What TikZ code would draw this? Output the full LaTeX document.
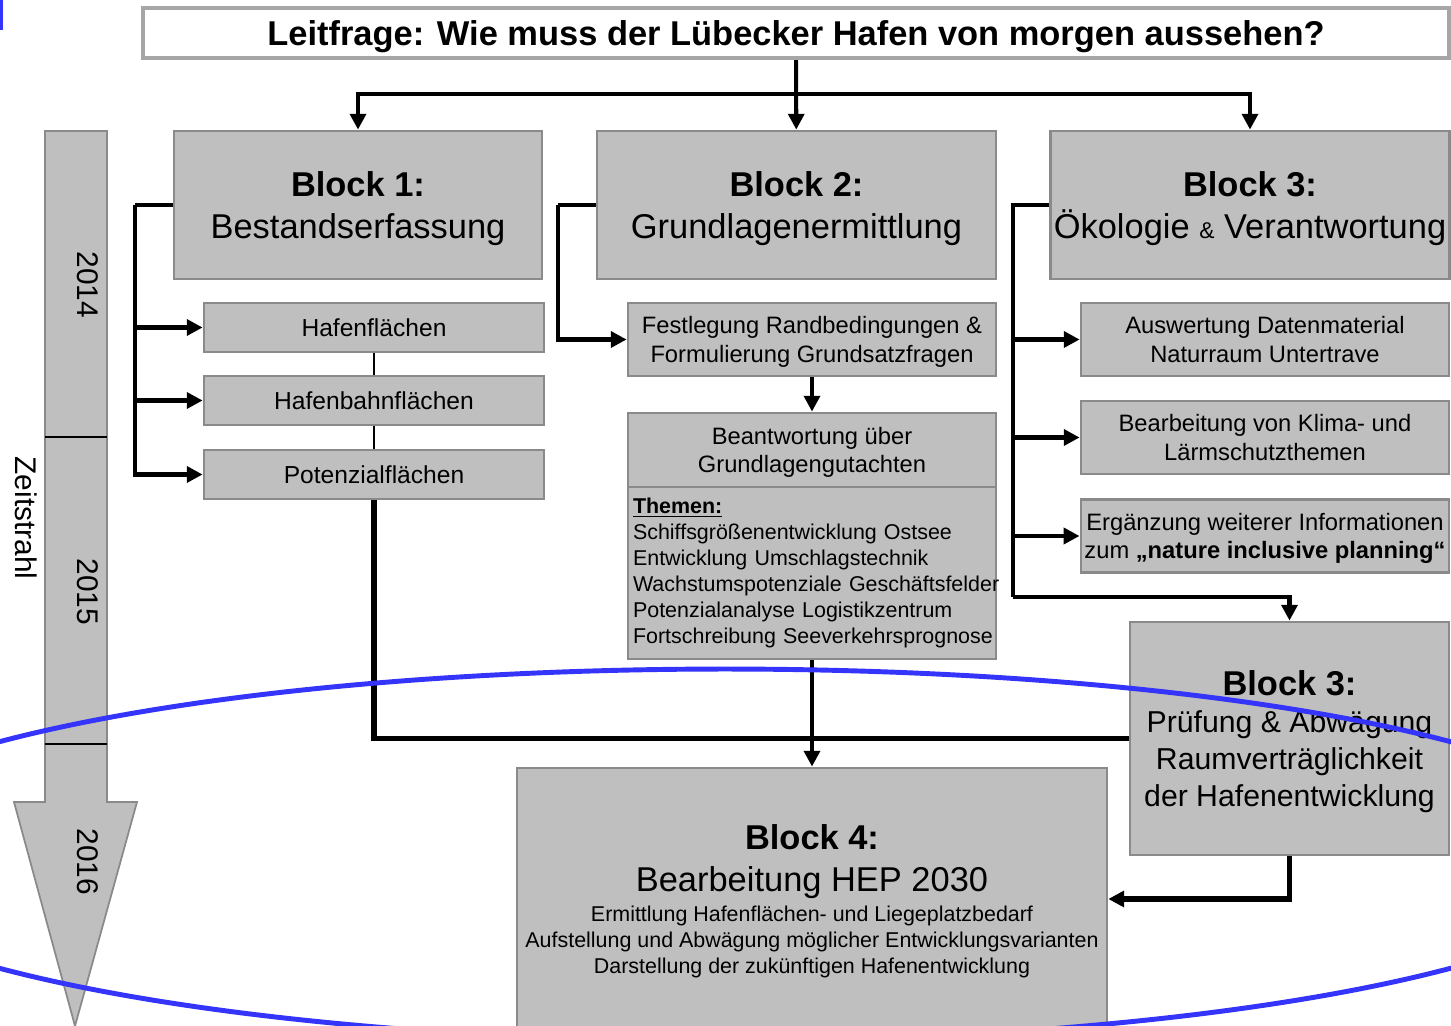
\documentclass[tikz,border=0pt]{standalone}
\usepackage{fontspec}
\setmainfont{Liberation Sans}
\usetikzlibrary{arrows.meta}
\definecolor{boxgray}{RGB}{191,191,191}
\definecolor{linegray}{RGB}{138,138,138}
\definecolor{titlegray}{RGB}{166,166,166}
\definecolor{ovalblue}{RGB}{52,52,250}
\newcommand{\bigfnt}{\fontsize{19.6}{23.5}\selectfont}
\newcommand{\smallfnt}{\fontsize{12.2}{14.8}\selectfont}

\begin{document}
\begin{tikzpicture}[x=0.02cm, y=-0.02cm,
    every node/.style={inner sep=2pt},
    box/.style={draw=linegray, line width=1.6pt, fill=boxgray, align=center},
    blockbox/.style={box, minimum width=7.98cm, minimum height=2.96cm, text depth=0pt, font=\bigfnt},
    flbox/.style={box, minimum width=6.8cm, minimum height=0.98cm, font=\fontsize{14}{16}\selectfont},
    infobox/.style={box, minimum width=7.36cm, minimum height=1.46cm, text depth=0pt, font=\fontsize{13.5}{16.2}\selectfont},
    yearlabel/.style={rotate=-90, font=\fontsize{17}{20}\selectfont},
    bus/.style={draw=black, line width=2.3pt},
    arr/.style={bus, -{Triangle[length=9pt, width=9pt]}},
    fatbus/.style={draw=black, line width=3.2pt}]
  \clip (0,0) rectangle (1451,1026);
  \fill[white] (0,0) rectangle (1451,1026);
  \fill[ovalblue] (0,0) rectangle (3,30);

  % Zeitstrahl
  \draw[draw=linegray, line width=1pt, fill=boxgray] (45,131) -- (107,131) -- (107,802) -- (137,802)
    -- (75,1026) -- (14,802) -- (45,802) -- cycle;
  \draw[line width=1pt] (45,437) -- (107,437) (45,744) -- (107,744);
  \node[yearlabel] (y14) at (88,285) {2014};
  \node[yearlabel] (y15) at (88,592) {2015};
  \node[yearlabel] (y16) at (88,862) {2016};
  \node[yearlabel] (zs) at (26,518) {Zeitstrahl};

  % Leitfrage
  \node[draw=titlegray, line width=2.3pt, fill=white, minimum width=26.12cm, minimum height=1cm, text depth=0pt,
    font=\bfseries\bigfnt] (title) at (796,33) {Leitfrage: Wie muss der Lübecker Hafen von morgen aussehen?};

  \node[blockbox, minimum width=7.36cm] (b1) at (358,205) {\textbf{Block 1:}\\Bestandserfassung};
  \node[blockbox] (b2) at (796.5,205) {\textbf{Block 2:}\\Grundlagenermittlung};
  \node[blockbox] (b3) at (1250,205) {\textbf{Block 3:}\\Ökologie {\fontsize{13}{15}\selectfont\&} Verantwortung};

  \node[flbox] (h1) at (374,327.5) {Hafenflächen};
  \node[flbox] (h2) at (374,400.5) {Hafenbahnflächen};
  \node[flbox] (h3) at (374,474.5) {Potenzialflächen};

  \node[infobox] (f1) at (812,339.5) {Festlegung Randbedingungen \&\\Formulierung Grundsatzfragen};
  \node[infobox, minimum height=1.48cm] (bt) at (812,450) {Beantwortung über\\Grundlagengutachten};
  \node[box, align=left, text width=7.16cm, inner sep=0.1cm, minimum height=3.44cm, font=\smallfnt] (tm) at (812,573)
    {\mbox{\underline{\textbf{Themen:}}}\\\mbox{Schiffsgrößenentwicklung Ostsee}\\\mbox{Entwicklung Umschlagstechnik}\\
     \mbox{Wachstumspotenziale Geschäftsfelder}\\\mbox{Potenzialanalyse Logistikzentrum}\\\mbox{Fortschreibung Seeverkehrsprognose}};

  \node[infobox] (r1) at (1265,339.5) {Auswertung Datenmaterial\\Naturraum Untertrave};
  \node[infobox] (r2) at (1265,437.5) {Bearbeitung von Klima- und\\Lärmschutzthemen};
  \node[infobox] (r3) at (1265,536) {Ergänzung weiterer Informationen\\zum \textbf{„nature inclusive planning“}};

  \node[box, minimum width=6.38cm, minimum height=4.66cm, text depth=0pt, font=\fontsize{17.2}{21}\selectfont] (p3) at (1289.5,738.5)
    {{\bigfnt\textbf{Block 3:}}\\Prüfung \& Abwägung\\Raumverträglichkeit\\der Hafenentwicklung};

  \node[box, minimum width=11.8cm, minimum height=5.24cm, text depth=0pt, font=\smallfnt] (b4) at (812,899)
    {{\bigfnt\textbf{Block 4:}}\\[9pt]{\bigfnt Bearbeitung HEP 2030}\\[2pt]Ermittlung Hafenflächen- und Liegeplatzbedarf\\
     Aufstellung und Abwägung möglicher Entwicklungsvarianten\\Darstellung der zukünftigen Hafenentwicklung};

  % Verbindungen
  \coordinate (tbus) at (796,94);
  \coordinate (l1) at (135,205);
  \coordinate (l2) at (558,205);
  \coordinate (l3) at (1013,205);
  \coordinate (l3e) at (1013,597);

  \draw[bus] (title) -- (tbus);
  \draw[arr] (tbus) -| (b1);
  \draw[arr] (title) -- (b2);
  \draw[arr] (tbus) -| (b3);

  \draw[bus] (b1.west) -- (l1);
  \draw[arr] (l1) |- (h1);
  \draw[arr] (l1) |- (h2);
  \draw[arr] (l1) |- (h3);
  \path[line width=1pt] (h1) edge (h2);
  \path[line width=1pt] (h2) edge (h3);
  \draw[fatbus] (h3) |- (p3);

  \draw[bus] (b2.west) -- (l2);
  \draw[arr] (l2) |- (f1);
  \draw[arr] (f1) -- (bt);
  \draw[arr] (tm) -- (b4);

  \draw[bus] (b3.west) -- (l3) -- (l3e);
  \draw[arr] (l3) |- (r1);
  \draw[arr] (l3) |- (r2);
  \draw[arr] (l3) |- (r3);
  \draw[arr] (l3e) -| (p3);
  \draw[arr, line width=3.2pt] (p3) |- (b4);

  \draw[ovalblue, line width=2.8pt] (725,855) ellipse [x radius=18.3cm, y radius=3.72cm];
\end{tikzpicture}
\end{document}
